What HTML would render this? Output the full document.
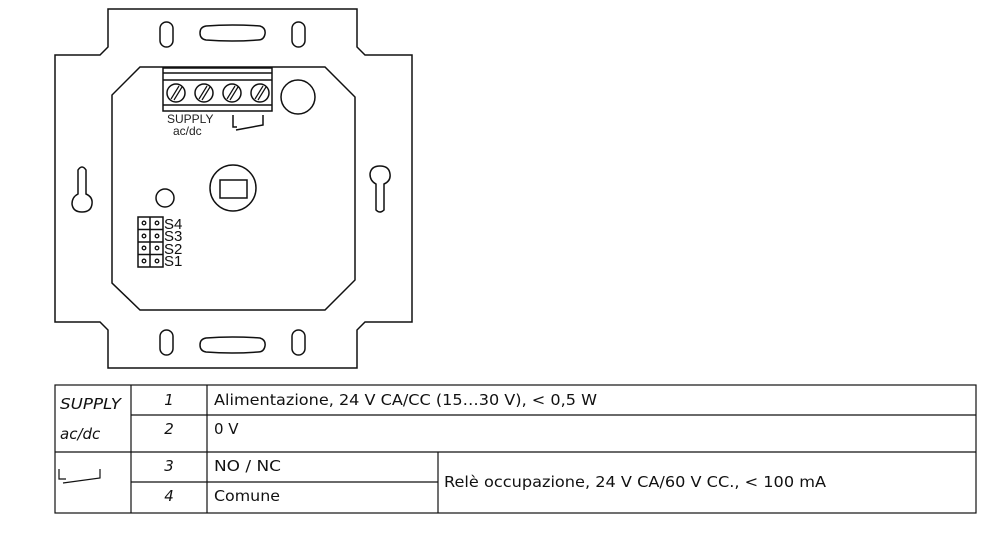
<!DOCTYPE html>
<html><head><meta charset="utf-8"><style>
html,body{margin:0;padding:0;background:#fff;width:1000px;height:534px;overflow:hidden}
svg{position:absolute;left:0;top:0}
</style></head><body>
<svg width="1000" height="534" viewBox="0 0 1000 534" xmlns="http://www.w3.org/2000/svg" font-family="'Liberation Sans',sans-serif">
<g fill="none" stroke="#111" stroke-width="1.5">
<path d="M108,9 H357 V47 L365,55 H412 V322 H365 L357,330 V368 H108 V330 L100,322 H55 V55 H100 L108,47 Z"/>
<path d="M140,67 H325 L355,97 V280 L325,310 H140 L112,283 V95 Z"/>
<rect x="160" y="22" width="13" height="25" rx="6.5"/>
<rect x="292" y="22" width="13" height="25" rx="6.5"/>
<path d="M206,26 Q232,24 260,26 Q266,28 265,34 Q264,40 258,40 Q232,42 206,40 Q200,39 200,33 Q200,27 206,26 Z"/>
<rect x="160" y="330" width="13" height="25" rx="6.5"/>
<rect x="292" y="330" width="13" height="25" rx="6.5"/>
<path d="M206,338 Q232,336 260,338 Q266,340 265,346 Q264,352 258,352 Q232,354 206,352 Q200,351 200,345 Q200,339 206,338 Z"/>
<path d="M78,170 Q82,164 86,170 L86,194 Q93,197 92,204 Q91,212 82,212 Q73,212 72,204 Q72,197 78,194 Z"/>
<path d="M376,210 Q380,214 384,210 L384,184 Q391,181 390,174 Q389,166 380,166 Q371,166 370,174 Q370,181 376,184 Z"/>
<rect x="163" y="68" width="109" height="43"/>
<line x1="163" y1="73" x2="272" y2="73"/>
<line x1="163" y1="80" x2="272" y2="80"/>
<line x1="163" y1="105" x2="272" y2="105"/>
<circle cx="176" cy="93" r="9"/><circle cx="204" cy="93" r="9"/><circle cx="232" cy="93" r="9"/><circle cx="260" cy="93" r="9"/>
<path d="M171,99 L179,86 M174,100 L182,87 M199,99 L207,86 M202,100 L210,87 M227,99 L235,86 M230,100 L238,87 M255,99 L263,86 M258,100 L266,87" stroke-width="1.2"/>
<circle cx="298" cy="97" r="17"/>
<path d="M233,115 V127 H237 M236,130 L263,125 V115"/>
<circle cx="233" cy="188" r="23"/>
<rect x="220" y="180" width="27" height="18"/>
<circle cx="165" cy="198" r="9"/>
<rect x="138" y="217" width="25" height="50"/>
<line x1="150" y1="217" x2="150" y2="267"/>
<line x1="138" y1="229.5" x2="163" y2="229.5"/>
<line x1="138" y1="242" x2="163" y2="242"/>
<line x1="138" y1="254.5" x2="163" y2="254.5"/>
</g>
<g fill="none" stroke="#111" stroke-width="1.3">
<circle cx="144" cy="223" r="1.8"/><circle cx="157" cy="223" r="1.8"/>
<circle cx="144" cy="236" r="1.8"/><circle cx="157" cy="236" r="1.8"/>
<circle cx="144" cy="248" r="1.8"/><circle cx="157" cy="248" r="1.8"/>
<circle cx="144" cy="261" r="1.8"/><circle cx="157" cy="261" r="1.8"/>
</g>
<g fill="#111" font-size="15">
<text x="164" y="229">S4</text><text x="164" y="241">S3</text><text x="164" y="254">S2</text><text x="164" y="266">S1</text>
</g>
<text x="167" y="123" font-size="12" fill="#222">SUPPLY</text>
<text x="173" y="135" font-size="12" fill="#222">ac/dc</text>
<g fill="none" stroke="#111" stroke-width="1.2">
<rect x="55" y="385" width="921" height="128"/>
<line x1="131" y1="385" x2="131" y2="513"/>
<line x1="207" y1="385" x2="207" y2="513"/>
<line x1="438" y1="452" x2="438" y2="513"/>
<line x1="131" y1="415" x2="976" y2="415"/>
<line x1="55" y1="452" x2="976" y2="452"/>
<line x1="131" y1="482" x2="438" y2="482"/>
<path d="M59,469 V479 H66 M63,483 L100,478 V469"/>
</g>
<g font-family="'DejaVu Sans',Verdana,sans-serif" font-size="15" fill="#111">
<text x="60" y="409" font-style="italic" textLength="61" lengthAdjust="spacingAndGlyphs">SUPPLY</text>
<text x="60" y="439" font-style="italic">ac/dc</text>
<text x="169" y="405" font-style="italic" text-anchor="middle">1</text>
<text x="169" y="434" font-style="italic" text-anchor="middle">2</text>
<text x="169" y="471" font-style="italic" text-anchor="middle">3</text>
<text x="169" y="501" font-style="italic" text-anchor="middle">4</text>
<text x="214" y="405" textLength="383" lengthAdjust="spacingAndGlyphs">Alimentazione, 24 V CA/CC (15…30 V), &lt; 0,5 W</text>
<text x="214" y="434">0 V</text>
<text x="214" y="471" textLength="67" lengthAdjust="spacingAndGlyphs">NO / NC</text>
<text x="214" y="501" textLength="66" lengthAdjust="spacingAndGlyphs">Comune</text>
<text x="444" y="487" textLength="382" lengthAdjust="spacingAndGlyphs">Relè occupazione, 24 V CA/60 V CC., &lt; 100 mA</text>
</g>
</svg>
</body></html>
